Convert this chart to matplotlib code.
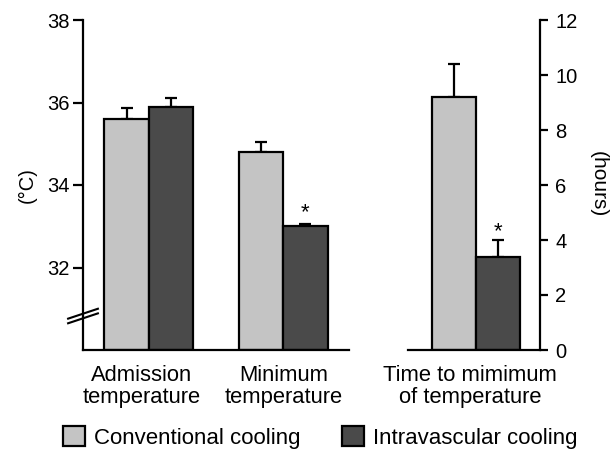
import numpy as np
import matplotlib
matplotlib.use("Agg")
import matplotlib.pyplot as plt
from matplotlib.patches import Patch

plt.rcParams['font.family'] = ['Liberation Sans', 'DejaVu Sans']

# ---- data ----
temp_categories = ['Admission\ntemperature', 'Minimum\ntemperature']
temp_conventional = [35.6, 34.8]
temp_conventional_err = [0.27, 0.25]
temp_intravascular = [35.9, 33.0]
temp_intravascular_err = [0.22, 0.05]

time_categories = ['Time to mimimum\nof temperature']
time_conventional = [9.2]
time_conventional_err = [1.2]
time_intravascular = [3.4]
time_intravascular_err = [0.6]

series_labels = ['Conventional cooling', 'Intravascular cooling']
temp_ticks = [32, 34, 36, 38]
time_ticks = [0, 2, 4, 6, 8, 10, 12]
temp_floor = 30
temp_top = 38
time_top = 12

# ---- style ----
light = '#c4c4c4'
dark = '#4a4a4a'
lw = 1.6
bw = 0.33

fig = plt.figure(figsize=(6.16, 4.5), dpi=100)
W, H = 616, 450
ax1 = fig.add_axes([83 / W, 100 / H, 266 / W, 330 / H])
ax2 = fig.add_axes([408 / W, 100 / H, 132 / W, 330 / H])

err_kw = dict(ecolor='black', elinewidth=lw, capsize=4, capthick=lw)

def draw(ax, cats, conv, conv_err, intra, intra_err, floor):
    x = np.arange(len(cats))
    conv = np.asarray(conv, float)
    intra = np.asarray(intra, float)
    ax.bar(x - bw / 2, conv - floor, bw, bottom=floor, color=light,
           edgecolor='black', linewidth=lw, zorder=2)
    ax.bar(x + bw / 2, intra - floor, bw, bottom=floor, color=dark,
           edgecolor='black', linewidth=lw, zorder=2)
    ax.errorbar(x - bw / 2, conv, yerr=[np.zeros_like(conv), conv_err],
                fmt='none', zorder=1, **err_kw)
    ax.errorbar(x + bw / 2, intra, yerr=[np.zeros_like(intra), intra_err],
                fmt='none', zorder=1, **err_kw)
    return x

x1 = draw(ax1, temp_categories, temp_conventional, temp_conventional_err,
          temp_intravascular, temp_intravascular_err, temp_floor)
x2 = draw(ax2, time_categories, time_conventional, time_conventional_err,
          time_intravascular, time_intravascular_err, 0)

# significance markers
ax1.annotate('*', xy=(x1[1] + bw / 2, temp_intravascular[1] + temp_intravascular_err[1]),
             xytext=(0, 4), textcoords='offset points', ha='center', va='baseline',
             fontsize=16)
ax2.annotate('*', xy=(x2[0] + bw / 2, time_intravascular[0] + time_intravascular_err[0]),
             xytext=(0, 2), textcoords='offset points', ha='center', va='baseline',
             fontsize=16)

# axes
ax1.set_xlim(-0.49, 1.49)
ax1.set_ylim(temp_floor, temp_top)
ax2.set_xlim(-0.507, 0.478)
ax2.set_ylim(0, time_top)

for sp in ['top', 'right']:
    ax1.spines[sp].set_visible(False)
for sp in ['top', 'left']:
    ax2.spines[sp].set_visible(False)
for ax in (ax1, ax2):
    for sp in ax.spines.values():
        sp.set_linewidth(lw)
    ax.set_facecolor('none')

ax1.set_yticks(temp_ticks)
ax1.tick_params(axis='y', length=7, width=lw, pad=2.5, labelsize=14.5)
ax2.yaxis.tick_right()
ax2.set_yticks(time_ticks)
ax2.tick_params(axis='y', length=6, width=lw, pad=5, labelsize=14.5)

ax1.set_xticks(x1 + np.array([-0.055, 0.005]))
ax1.set_xticklabels(temp_categories, fontsize=15.8, linespacing=1.05)
ax2.set_xticks(x2 - 0.045)
ax2.set_xticklabels(time_categories, fontsize=15.8, linespacing=1.05)
for ax in (ax1, ax2):
    ax.tick_params(axis='x', length=0, pad=11)

fig.text(27 / W, 1 - 185 / H, '(°C)', rotation=90, ha='center', va='center', fontsize=14.5)
fig.text(598 / W, 1 - 184 / H, '(hours)', rotation=270, ha='center', va='center', fontsize=15)

# axis break mark
for dy in (-0.007, 0.007):
    ax1.plot([-0.056, 0.056], [0.088 + dy, 0.118 + dy], transform=ax1.transAxes,
             color='black', lw=1.5, clip_on=False, zorder=5)

handles = [Patch(facecolor=light, edgecolor='black', linewidth=lw),
           Patch(facecolor=dark, edgecolor='black', linewidth=lw)]
fig.legend(handles, series_labels, loc='upper left', bbox_to_anchor=(63 / W, 1 - 426 / H),
           ncol=2, frameon=False, fontsize=16, borderpad=0, borderaxespad=0,
           handlelength=1.0, handleheight=1.0, handletextpad=0.4, columnspacing=1.85)

fig.savefig('out.png', dpi=100)
